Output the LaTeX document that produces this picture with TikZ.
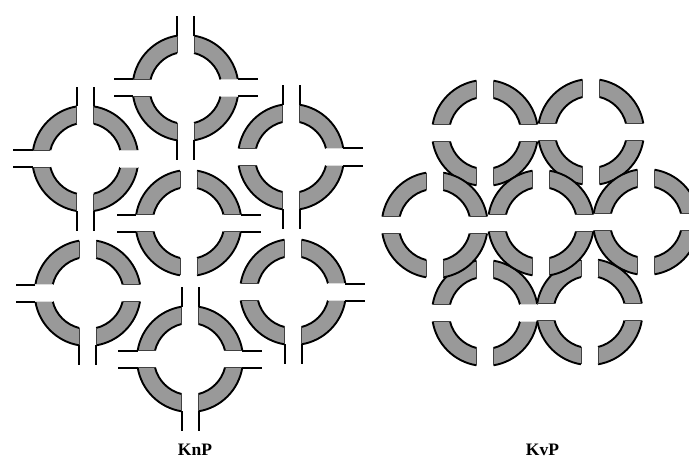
\documentclass[tikz,border=0pt]{standalone}
\usepackage{fontspec}
\setmainfont{Liberation Serif}
\usepackage{xcolor}
\definecolor{bladegray}{RGB}{153, 153, 153}
\usepackage{tikz}

\begin{document}
\begin{tikzpicture}[
  x=1pt, y=1pt,
  capdark/.style={color=black!75, line width=0.8pt},
  caplight/.style={color=bladegray!35, line width=0.6pt},
  leadline/.style={line width=2pt, color=black},
  arcline/.style={line width=1.9pt, color=black},
  plabel/.style={font=\fontsize{17.5}{18}\selectfont\bfseries, inner sep=0pt},
  blade/.pic={
    \fill[bladegray] (9.23:53) arc[start angle=9.23, end angle=80.77, radius=53] -- (76.34:36) arc[start angle=76.34, end angle=13.66, radius=36] -- cycle;
    \draw[arcline] (9.23:53) arc[start angle=9.23, end angle=80.77, radius=53];
    \draw[arcline] (76.34:36) arc[start angle=76.34, end angle=13.66, radius=36];
  },
  endcaps/.pic={
    \draw (35,8.5) -- (52.3,8.5) (35,-8.5) -- (52.3,-8.5);
  },
  leads/.pic={
    \draw[leadline] (52.3,8.5) -- (72,8.5) (52.3,-8.5) -- (72,-8.5);
  }
]
\useasboundingbox (0,0) rectangle (689,459);

\node[plabel] (knp) at (195,9) {KnP};
\node[plabel] (kvp) at (542.5,9) {KvP};

\clip (0,0) rectangle (689,459);

% KnP rings
\foreach \cx/\cy/\leadlist/\rightcap/\leftcap in {
  185.5/371/{0,90,180,270}/caplight/capdark,
  85.3/300.3/{90,180,270}/caplight/capdark,
  291/302/{0,90,270}/caplight/capdark,
  188.5/236/{0,180}/capdark/capdark,
  87.7/166/{180,270}/capdark/caplight,
  293/167/{0,270}/caplight/capdark,
  190/100/{0,90,180,270}/capdark/capdark}{
  \foreach \a in {0,90,180,270}
    \path (\cx,\cy) pic[rotate=\a] {blade};
  \path (\cx,\cy) pic[rotate=90, capdark] {endcaps} pic[rotate=270, capdark] {endcaps};
  \path (\cx,\cy) pic[rotate=0, \rightcap] {endcaps} pic[rotate=180, \leftcap] {endcaps};
  \foreach \a in \leadlist
    \path (\cx,\cy) pic[rotate=\a] {leads};
}

% KvP rings, middle row last
\foreach \cx/\cy/\rightcap in {
  485/326/capdark, 591/327/capdark,
  485/146/caplight, 589.5/147/capdark,
  434.7/234/capdark, 541/236/capdark, 646/237/capdark}{
  \foreach \a in {0,90,180,270}
    \path (\cx,\cy) pic[rotate=\a] {blade};
  \path (\cx,\cy) pic[rotate=90, capdark] {endcaps} pic[rotate=270, capdark] {endcaps};
  \path (\cx,\cy) pic[rotate=0, \rightcap] {endcaps} pic[rotate=180, capdark] {endcaps};
}
\end{tikzpicture}
\end{document}
